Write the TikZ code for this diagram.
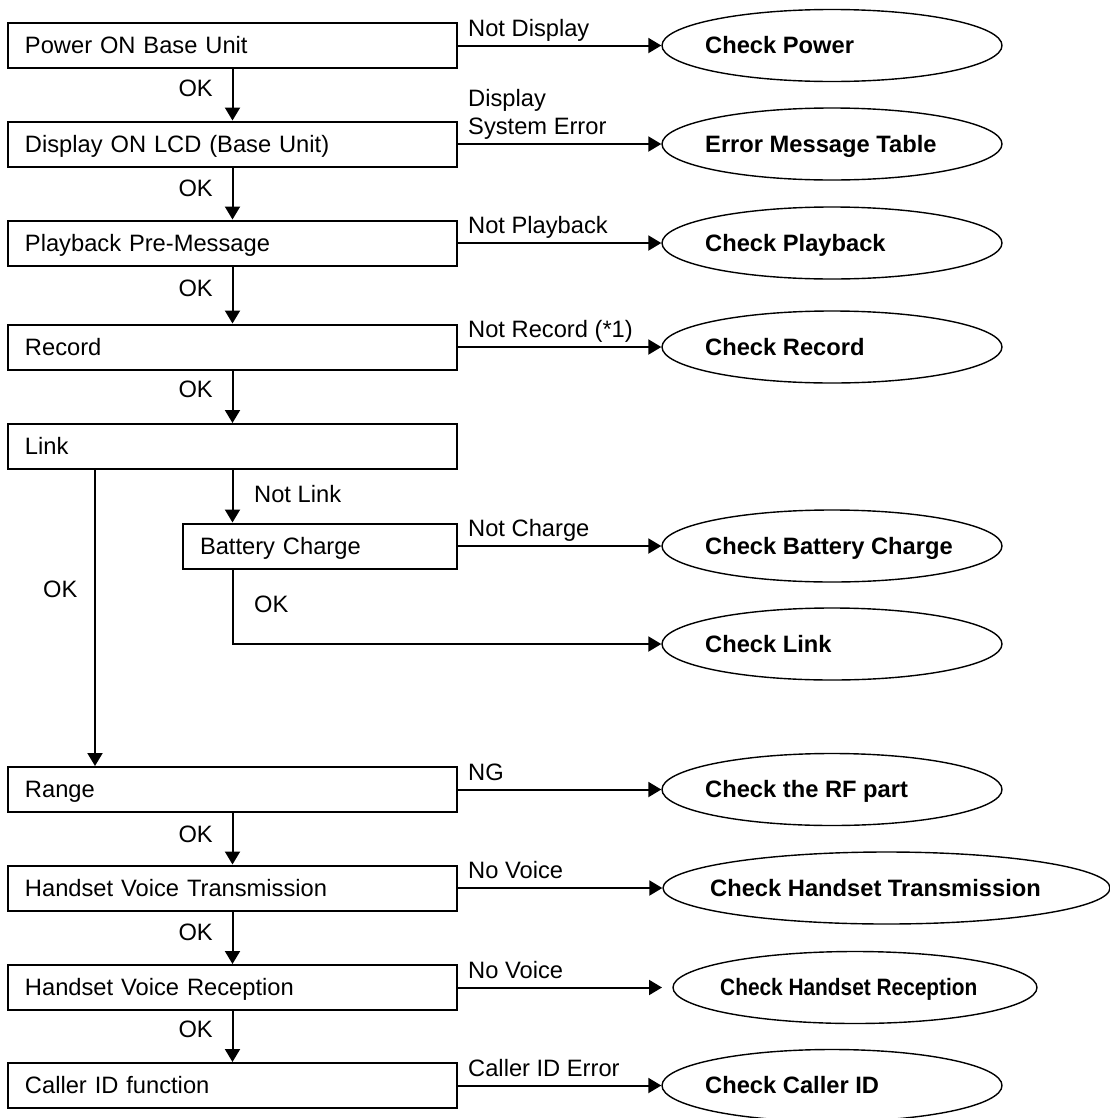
\documentclass[tikz,border=0pt]{standalone}
\usepackage{fontspec}
\usepackage{graphicx}
\setmainfont{Liberation Sans}
\usetikzlibrary{arrows.meta,shapes.geometric}
\begin{document}
\begin{tikzpicture}[x=1bp,y=-1bp,
  font=\fontsize{23.7bp}{28.4bp}\selectfont,
  stepbox/.style={draw,line width=2bp,rectangle,minimum height=45bp,inner xsep=17bp,inner ysep=0pt,text height=16.8bp,text depth=0bp,align=left},
  mainbox/.style={stepbox,text width=415bp},
  batbox/.style={stepbox,text width=240bp},
  oval/.style={draw,ellipse,line width=1.4bp,minimum width=340bp,minimum height=72bp,inner sep=0pt},
  otext/.style={font=\fontsize{23.7bp}{28.4bp}\selectfont\bfseries,anchor=west,inner sep=0pt,text height=16.8bp,text depth=0bp},
  lbl/.style={inner sep=0pt,text height=16.8bp,text depth=0bp,anchor=south west},
  okl/.style={inner sep=0pt,text height=16.8bp,text depth=0bp,anchor=south east},
  arr/.style={line width=2bp,-{Triangle[length=13bp,width=15bp]}},
  ln/.style={line width=2bp}
]
\useasboundingbox (0,0) rectangle (1110,1118);
\clip (0,0) rectangle (1110,1118);

% step boxes
\node[mainbox] (b1) at (232.5,45.5) {Power ON Base Unit};
\node[mainbox] (b2) at (232.5,144) {Display ON LCD (Base Unit)};
\node[mainbox] (b3) at (232.5,243) {Playback Pre-Message};
\node[mainbox] (b4) at (232.5,347) {Record};
\node[mainbox] (b5) at (232.5,446.5) {Link};
\node[batbox] (bat) at (320,546) {Battery Charge};
\node[mainbox] (b6) at (232.5,789.5) {Range};
\node[mainbox] (b7) at (232.5,888) {Handset Voice Transmission};
\node[mainbox] (b8) at (232.5,987.5) {Handset Voice Reception};
\node[mainbox] (b9) at (232.5,1085.5) {Caller ID function};

% result ellipses
\node[oval] (e1) at (832,45.5) {};
\node[otext] (t1) at (705,45.5) {Check Power};
\node[oval] (e2) at (832,144) {};
\node[otext] (t2) at (705,144) {Error Message Table};
\node[oval] (e3) at (832,243) {};
\node[otext] (t3) at (705,243) {Check Playback};
\node[oval] (e4) at (832,347) {};
\node[otext] (t4) at (705,347) {Check Record};
\node[oval] (e5) at (832,546) {};
\node[otext] (t5) at (705,546) {Check Battery Charge};
\node[oval] (e6) at (832,644) {};
\node[otext] (t6) at (705,644) {Check Link};
\node[oval] (e7) at (832,789.5) {};
\node[otext] (t7) at (705,789.5) {Check the RF part};
\node[oval,minimum width=447bp] (e8) at (886.5,888) {};
\node[otext] (t8) at (710,888) {Check Handset Transmission};
\node[oval,minimum width=364bp] (e9) at (855,987.5) {};
\node[otext] (t9) at (720,987.5) {\scalebox{0.88}[1]{Check Handset Reception}};
\node[oval] (e10) at (832,1085.5) {};
\node[otext] (t10) at (705,1085.5) {Check Caller ID};
\coordinate (c9) at (662,987.5);

% main flow
\draw[arr] (b1.south) -- (b2.north);
\draw[arr] (b2.south) -- (b3.north);
\draw[arr] (b3.south) -- (b4.north);
\draw[arr] (b4.south) -- (b5.north);
\draw[arr] (b5.south) -- (b5.south |- bat.north);
\draw[arr] (bat.south -| b5.south) |- (e6.west);
\draw[arr] ([xshift=88bp]b5.south west) -- ([xshift=88bp]b6.north west);
\draw[arr] (b6.south) -- (b7.north);
\draw[arr] (b7.south) -- (b8.north);
\draw[arr] (b8.south) -- (b9.north);

% side branches
\draw[arr] (b1.east) -- (e1.west);
\draw[arr] (b2.east) -- (e2.west);
\draw[arr] (b3.east) -- (e3.west);
\draw[arr] (b4.east) -- (e4.west);
\draw[arr] (bat.east) -- (e5.west);
\draw[arr] (b6.east) -- (e7.west);
\draw[arr] (b7.east) -- (e8.west);
\draw[arr] (b8.east) -- (c9);
\draw[arr] (b9.east) -- (e10.west);

% branch labels
\node[lbl] (l1) at (468,36.5) {Not Display};
\node[lbl] (l2a) at (468,107) {Display};
\node[lbl] (l2b) at (468,135) {System Error};
\node[lbl] (l3) at (468,234) {Not Playback};
\node[lbl] (l4) at (468,338) {Not Record (*1)};
\node[lbl] (l5) at (468,537) {Not Charge};
\node[lbl] (l6) at (468,780.5) {NG};
\node[lbl] (l7) at (468,879) {No Voice};
\node[lbl] (l8) at (468,978.5) {No Voice};
\node[lbl] (l9) at (468,1076.5) {Caller ID Error};

% OK labels
\node[okl] (k1) at (213,97) {OK};
\node[okl] (k2) at (213,197) {OK};
\node[okl] (k3) at (213,297) {OK};
\node[okl] (k4) at (213,398) {OK};
\node[okl] (k6) at (213,843) {OK};
\node[okl] (k7) at (213,941) {OK};
\node[okl] (k8) at (213,1038) {OK};
\node[lbl] (k5) at (43,598) {OK};
\node[lbl] (nl) at (254,503) {Not Link};
\node[lbl] (kb) at (254,613) {OK};
\end{tikzpicture}
\end{document}
